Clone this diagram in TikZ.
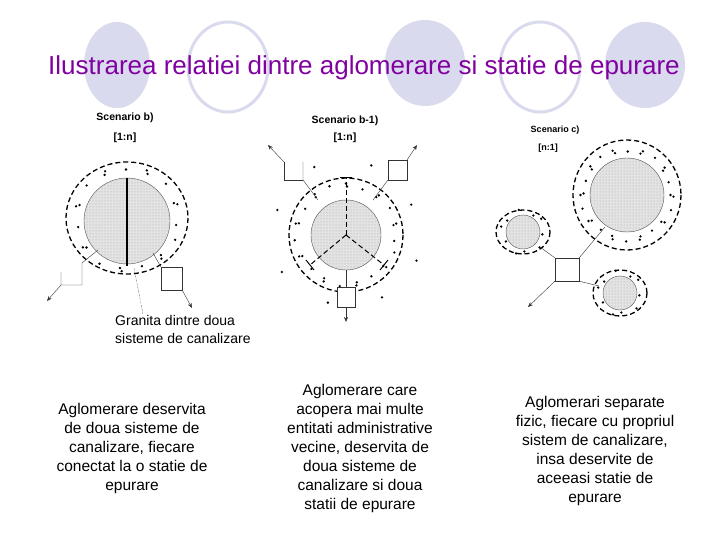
\documentclass[tikz,border=0pt]{standalone}
\usepackage{fontspec}
\setmainfont{Liberation Sans}
\usetikzlibrary{patterns,arrows.meta}
\definecolor{lav}{RGB}{218,218,238}
\definecolor{ttl}{RGB}{128,0,160}
\tikzset{
  lavfill/.style={fill=lav,draw=none},
  lavring/.style={draw=lav,line width=3pt},
  inner/.style={draw=black!70,thin,fill=gray!22,postaction={pattern=dots,pattern color=gray!70}},
  outer/.style={draw=black,line width=1.3pt,dash pattern=on 5pt off 3pt},
  ln/.style={draw=black!80,thin},
  arr/.style={draw=black!80,thin,-{Stealth[length=5pt,width=4pt]}},
  bx/.style={draw=black!80,thin,fill=white},
  scen/.style={font=\bfseries\fontsize{10.5}{12}\selectfont},
  captxt/.style={font=\fontsize{15.5}{19}\selectfont,align=center},
}
\newcommand{\ringdots}[4]{% cx cy r n
  \foreach \i in {1,...,#4}{
    \pgfmathsetmacro\ang{\i*360/#4+7*mod(\i,3)}
    \pgfmathsetmacro\rr{#3+3*mod(\i,2)-1.5}
    \fill (#1,#2) ++(\ang:\rr) circle (1.3);
  }}
\begin{document}
\begin{tikzpicture}[x=1pt,y=-1pt]
\useasboundingbox (0,0) rectangle (720,540);
% title decoration
\fill[lavfill] (117,65) ellipse (33 and 43);
\draw[lavring] (228,67) ellipse (40 and 45);
\fill[lavfill] (425,63) ellipse (40 and 43);
\draw[lavring] (540,67) ellipse (40 and 45);
\fill[lavfill] (645,65) ellipse (40 and 43);
\node[text=ttl,font=\fontsize{26}{28}\selectfont] (title) at (364,68) {Ilustrarea relatiei dintre aglomerare si statie de epurare};

% ---------- Scenario b
\node[scen] (sb) at (125,118) {Scenario b)};
\node[scen] (sbn) at (125,138) {[1:n]};
\draw[inner] (127,221) circle (43);
\draw[outer] (127,218) ellipse (61 and 56);
\ringdots{127}{219}{51}{22}
\draw[black,line width=1.2pt] (127,178) -- (127,266);
\coordinate (b1) at (98,250);
\coordinate (b2) at (82,263);
\draw[ln] (b1) -- (b2) -- (82,285) -- (61,285) -- (61,272);
\coordinate (la) at (61,285);
\coordinate (laend) at (47,301);
\draw[arr] (la) -- (laend);
\node[bx,minimum width=21pt,minimum height=23pt,inner sep=0] (rb) at (171.5,278.5) {};
\coordinate (b3) at (153,253);
\draw[ln] (b3) -- (rb.north west);
\coordinate (rbend) at (192,308);
\draw[arr] (rb.south east) -- (rbend);
\node[font=\fontsize{14}{18}\selectfont,align=left,anchor=north west,inner sep=0] (gr) at (115,315) {Granita dintre doua\\sisteme de canalizare};
\coordinate (gtop) at (134,268);
\coordinate (gbot) at (143,314);
\draw[black,densely dotted] (gtop) -- (gbot);

% ---------- Scenario b-1
\node[scen] (sb1) at (345,121) {Scenario b-1)};
\node[scen] (sb1n) at (345,138) {[1:n]};
\draw[inner] (346,235) circle (35);
\ringdots{346}{235}{50}{28}
\draw[outer] (346,235) circle (57);
\foreach \a/\r in {20/75,60/72,105/70,150/74,200/73,245/75,290/74,335/72}{\fill (346,235) ++(\a:\r) circle (1.3);}
\coordinate (yc) at (346,235);
\draw[outer,line width=1pt] (yc) -- (346,178);
\draw[black,line width=1pt] (340,178) -- (352,178);
\draw[outer,line width=1pt] (yc) -- (310,265);
\draw[black,line width=1pt] (306,260) -- (314,270);
\draw[outer,line width=1pt] (yc) -- (384,265);
\draw[black,line width=1pt] (380,270) -- (388,260);
\draw[ln] (318,200) -- (303,180) -- (303,162);
\draw[ln] (303,180) -- (284,180) -- (284,162);
\draw[arr] (284,162) -- (268,145);
\node[bx,minimum width=19pt,minimum height=20pt,inner sep=0] (ub) at (397.5,170) {};
\draw[ln] (373,200) -- (ub.south west);
\draw[arr] (ub.north east) -- (417,145);
\node[bx,minimum width=18pt,minimum height=20pt,inner sep=0] (bb) at (346,297) {};
\draw[ln] (346,270) -- (bb.north);
\draw[arr] (bb.south) -- (346,322);

% ---------- Scenario c
\node[scen,font=\bfseries\fontsize{9}{11}\selectfont] (sc) at (555,130) {Scenario c)};
\node[scen,font=\bfseries\fontsize{9}{11}\selectfont] (scn) at (548,148) {[n:1]};
\draw[inner] (627,195) circle (37);
\draw[outer] (627,195) ellipse (54 and 55);
\ringdots{627}{195}{45}{30}
\draw[inner] (523,232) circle (17);
\draw[outer] (523,232) ellipse (27 and 22);
\ringdots{523}{232}{21}{10}
\draw[inner] (620,293) circle (17);
\draw[outer] (620,293) ellipse (27 and 23);
\ringdots{620}{293}{21}{10}
\node[draw=black!80,thin,minimum width=24pt,minimum height=23pt,inner sep=0] (cb2) at (567,269.5) {};
\draw[ln] (540,247) -- (cb2.north west);
\draw[ln] (605,227) -- (cb2.north east);
\draw[ln] (cb2.south east) -- (599,286);
\draw[arr] (cb2.south west) -- (528,307);

% ---------- captions
\node[captxt] (t1) at (132,448) {Aglomerare deservita\\de doua sisteme de\\canalizare, fiecare\\conectat la o statie de\\epurare};
\node[captxt] (t2) at (360,448) {Aglomerare care\\acopera mai multe\\entitati administrative\\vecine, deservita de\\doua sisteme de\\canalizare si doua\\statii de epurare};
\node[captxt] (t3) at (595,451) {Aglomerari separate\\fizic, fiecare cu propriul\\sistem de canalizare,\\insa deservite de\\aceeasi statie de\\epurare};
\end{tikzpicture}
\end{document}
